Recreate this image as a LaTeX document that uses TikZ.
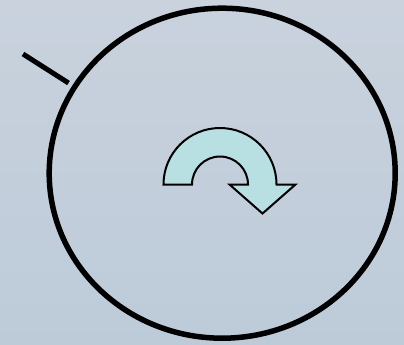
\documentclass[tikz,border=0pt]{standalone}
\definecolor{bgtop}{RGB}{201,210,221}
\definecolor{bgbot}{RGB}{189,203,217}
\definecolor{arrowfill}{RGB}{184,224,226}
\tikzset{
  rim/.style={draw=black, line width=5.5pt},
  turnarrow/.style={draw=black, line width=2pt, fill=arrowfill, line join=miter},
}
\begin{document}
\begin{tikzpicture}[x=1pt,y=-1pt]
  \useasboundingbox (0,0) rectangle (404,345);
  \shade[top color=bgtop, bottom color=bgbot] (0,0) rectangle (404,345);
  \coordinate (c) at (222.2,173.2);
  \draw[rim] (c) ellipse [x radius=173, y radius=165];
  \coordinate (t1) at (23,54);
  \coordinate (t2) at (68.5,83);
  \draw[rim, line width=5pt] (t1) -- (t2);
  \draw[turnarrow] (163.5,184.5) arc[start angle=180, end angle=360, radius=56.5]
    -- (295.5,184.5) -- (262.5,213.5) -- (229.5,184.5) -- (248,184.5)
    arc[start angle=360, end angle=180, radius=28] -- cycle;
\end{tikzpicture}
\end{document}
